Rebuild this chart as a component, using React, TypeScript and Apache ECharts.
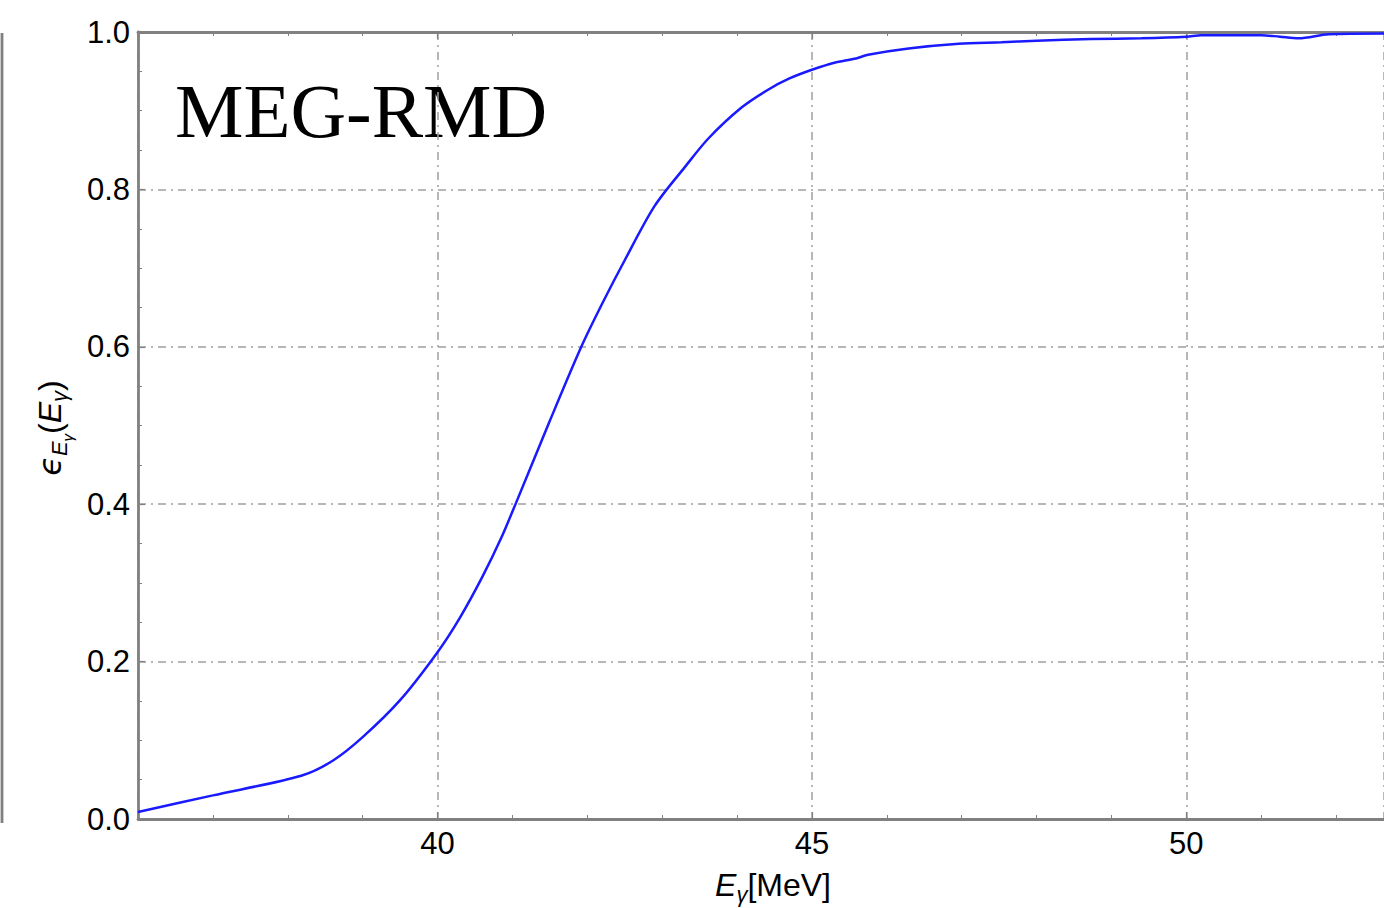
import React, { useEffect, useRef } from "react";
import * as echarts from "echarts";

const energies = [
  36.0, 37.0, 38.18, 38.6, 39.0, 39.5, 40.0, 40.3, 40.6, 40.85, 41.05, 41.5, 41.92,
  42.2, 42.5, 42.9, 43.3, 43.62, 44.06, 44.42, 44.7, 45.0, 45.3, 45.57, 45.75, 46.29,
  46.96, 47.53, 48.0, 48.73, 49.4, 50.0, 50.2, 51.0, 51.25, 51.5, 51.9, 52.64,
];
const efficiency = [
  0.009, 0.03, 0.055, 0.074, 0.104, 0.151, 0.212, 0.256, 0.308, 0.357, 0.402, 0.506, 0.6,
  0.655, 0.71, 0.779, 0.828, 0.865, 0.904, 0.927, 0.941, 0.952, 0.961, 0.966, 0.971, 0.979,
  0.985, 0.987, 0.989, 0.991, 0.992, 0.994, 0.996, 0.996, 0.994, 0.992, 0.997, 0.998,
];
const xMin = 36;
const xMax = 52.64;
const yTicks = [0, 0.2, 0.4, 0.6, 0.8, 1.0];

const FRAME = "#808080";
const GRID = "#a0a0a0";
const SANS = "'Liberation Sans', Arial, sans-serif";

export default function App() {
  const ref = useRef<HTMLDivElement>(null);
  useEffect(() => {
    if (!ref.current) return;
    const chart = echarts.init(ref.current, undefined, { renderer: "svg" });
    const data = energies.map((e, i) => [e, efficiency[i]]);
    const gridLine = { show: true, lineStyle: { color: GRID, width: 1.5, type: [8, 5, 2, 5] } };
    const axisCommon = {
      axisLine: { show: true, lineStyle: { color: FRAME, width: 2.8 } },
      axisTick: { show: true, inside: true, length: 7, lineStyle: { color: FRAME, width: 1.2 } },
      minorTick: { show: true, length: 4, lineStyle: { color: FRAME, width: 1 } },
    };
    chart.setOption({
      animation: false,
      backgroundColor: "#ffffff",
      grid: { left: 138, top: 32, right: 0, bottom: 89, containLabel: false },
      xAxis: [
        {
          type: "value",
          min: xMin,
          max: xMax,
          minInterval: 5,
          maxInterval: 5,
          position: "bottom",
          ...axisCommon,
          minorTick: { ...axisCommon.minorTick, splitNumber: 5 },
          axisLabel: {
            show: true,
            color: "#000",
            fontFamily: SANS,
            fontSize: 31,
            margin: 9,
            showMinLabel: false,
            showMaxLabel: false,
          },
          splitLine: gridLine,
        },
        {
          type: "value",
          min: xMin,
          max: xMax,
          minInterval: 5,
          maxInterval: 5,
          position: "top",
          ...axisCommon,
          minorTick: { ...axisCommon.minorTick, splitNumber: 5 },
          axisLabel: { show: false },
          splitLine: { show: false },
        },
      ],
      yAxis: {
        type: "value",
        min: yTicks[0],
        max: yTicks[yTicks.length - 1],
        interval: 0.2,
        ...axisCommon,
        minorTick: { ...axisCommon.minorTick, splitNumber: 4 },
        axisLabel: {
          show: true,
          color: "#000",
          fontFamily: SANS,
          fontSize: 31,
          margin: 8,
          formatter: (v: number) => v.toFixed(1),
        },
        splitLine: gridLine,
      },
      series: [
        {
          type: "line",
          data,
          xAxisIndex: 0,
          showSymbol: false,
          symbol: "none",
          lineStyle: { color: "#1a1aff", width: 2.5 },
          smooth: 0.3,
          clip: true,
        },
      ],
      graphic: [
        {
          type: "line",
          shape: { x1: 2, y1: 33, x2: 2, y2: 823 },
          style: { stroke: FRAME, lineWidth: 2.8 },
        },
        {
          type: "text",
          left: 175,
          top: 72,
          style: {
            text: "MEG-RMD",
            fontFamily: "'Liberation Serif', 'Times New Roman', serif",
            fontSize: 77,
            fill: "#000",
          },
        },
        {
          type: "text",
          x: 773,
          y: 885,
          style: {
            text: "{i|E}{s|γ}{n|[MeV]}",
            align: "center",
            verticalAlign: "middle",
            fill: "#000",
            rich: {
              i: { fontFamily: SANS, fontSize: 32, fontStyle: "italic", fill: "#000" },
              s: { fontFamily: SANS, fontSize: 22, fontStyle: "italic", fill: "#000", padding: [18, 0, 0, 0] },
              n: { fontFamily: SANS, fontSize: 32, fill: "#000" },
            },
          },
        },
        {
          type: "text",
          x: 50,
          y: 428,
          rotation: Math.PI / 2,
          style: {
            text: "{e|ϵ}{s1|E}{s2|γ}{n|(}{i|E}{s1|γ}{n|)}",
            align: "center",
            verticalAlign: "middle",
            fill: "#000",
            rich: {
              e: { fontFamily: "'DejaVu Sans', " + SANS, fontSize: 32, fontStyle: "italic", fill: "#000" },
              s1: { fontFamily: SANS, fontSize: 22, fontStyle: "italic", fill: "#000", padding: [18, 0, 0, 0] },
              s2: { fontFamily: SANS, fontSize: 15, fontStyle: "italic", fill: "#000", padding: [34, 0, 0, 0] },
              n: { fontFamily: SANS, fontSize: 32, fill: "#000" },
              i: { fontFamily: SANS, fontSize: 32, fontStyle: "italic", fill: "#000" },
            },
          },
        },
      ],
    });
    return () => chart.dispose();
  }, []);
  return (
    <div
      ref={ref}
      style={{ position: "absolute", left: 0, top: 0, width: 1384, height: 908, background: "#fff" }}
    />
  );
}
